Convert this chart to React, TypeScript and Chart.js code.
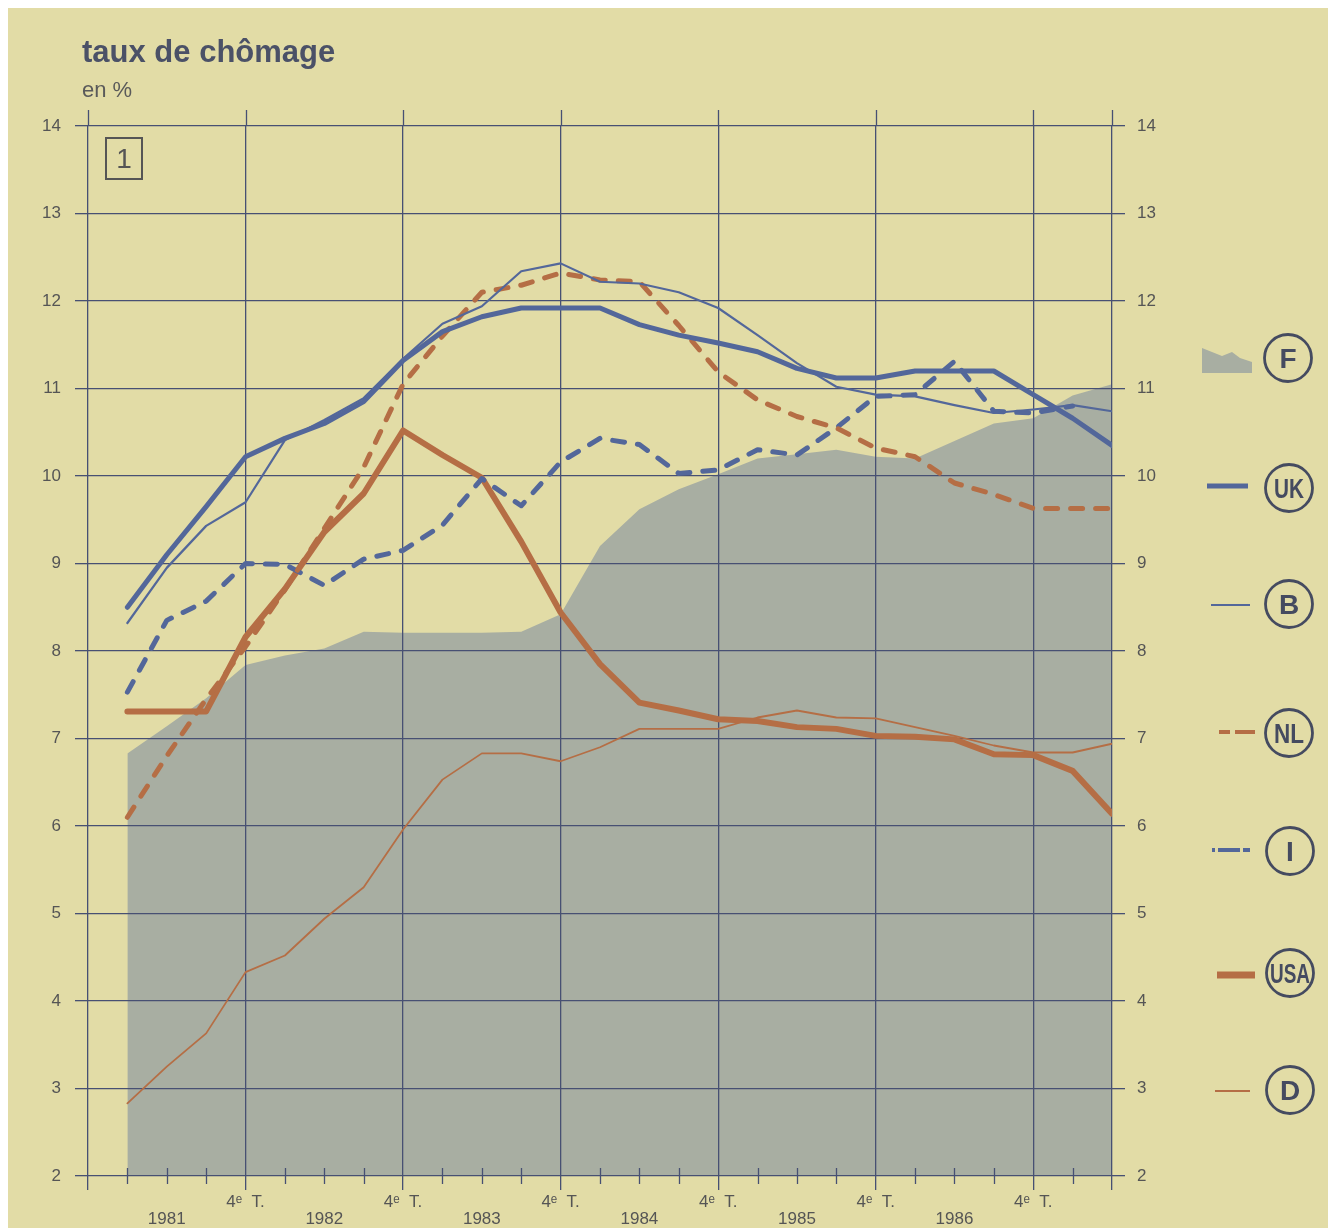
import React, { useEffect, useRef } from 'react';
import { Chart, registerables } from 'chart.js';

Chart.register(...registerables);

// Quarters: 1981 T1 ... 1987 T2
const quarters = [
  '1981 T1', '1981 T2', '1981 T3', '1981 T4',
  '1982 T1', '1982 T2', '1982 T3', '1982 T4',
  '1983 T1', '1983 T2', '1983 T3', '1983 T4',
  '1984 T1', '1984 T2', '1984 T3', '1984 T4',
  '1985 T1', '1985 T2', '1985 T3', '1985 T4',
  '1986 T1', '1986 T2', '1986 T3', '1986 T4',
  '1987 T1', '1987 T2',
];
const yearLabels = ['1981', '1982', '1983', '1984', '1985', '1986'];
const q4Label = '4ᵉ  T.';
const yTicks = [2, 3, 4, 5, 6, 7, 8, 9, 10, 11, 12, 13, 14];

const F = [6.83, 7.14, 7.46, 7.84, 7.95, 8.03, 8.22, 8.21, 8.21, 8.21, 8.22, 8.42, 9.2, 9.62, 9.85, 10.02, 10.2, 10.25, 10.3, 10.22, 10.2, 10.4, 10.6, 10.66, 10.92, 11.05];
const UK = [8.5, 9.1, 9.65, 10.22, 10.43, 10.6, 10.85, 11.32, 11.65, 11.82, 11.92, 11.92, 11.92, 11.73, 11.61, 11.52, 11.42, 11.23, 11.12, 11.12, 11.2, 11.2, 11.2, 10.93, 10.66, 10.35];
const B = [8.32, 8.95, 9.43, 9.7, 10.41, 10.64, 10.89, 11.34, 11.74, 11.94, 12.34, 12.43, 12.22, 12.2, 12.1, 11.92, 11.61, 11.29, 11.02, 10.93, 10.91, 10.81, 10.72, 10.76, 10.81, 10.74];
const NL = [6.1, 6.8, 7.45, 8.05, 8.7, 9.4, 10.1, 11.05, 11.6, 12.1, 12.18, 12.32, 12.24, 12.22, 11.72, 11.19, 10.87, 10.68, 10.55, 10.32, 10.22, 9.92, 9.79, 9.63, 9.63, 9.63];
const I = [7.53, 8.35, 8.57, 9.0, 8.99, 8.75, 9.05, 9.15, 9.44, 9.97, 9.66, 10.16, 10.43, 10.36, 10.03, 10.07, 10.3, 10.24, 10.55, 10.91, 10.93, 11.31, 10.74, 10.72, 10.8, null];
const USA = [7.31, 7.31, 7.31, 8.16, 8.71, 9.36, 9.8, 10.52, 10.24, 9.98, 9.25, 8.44, 7.85, 7.41, 7.32, 7.22, 7.2, 7.13, 7.11, 7.03, 7.02, 6.99, 6.82, 6.81, 6.63, 6.14];
const D = [2.83, 3.25, 3.63, 4.33, 4.52, 4.94, 5.3, 5.96, 6.53, 6.83, 6.83, 6.74, 6.9, 7.11, 7.11, 7.11, 7.24, 7.32, 7.24, 7.23, 7.13, 7.03, 6.92, 6.84, 6.84, 6.94];

const BG = '#E2DCA6';
const GRID = '#475073';
const BLUE = '#53679A';
const ORANGE = '#B56E45';
const GREY = '#A8AEA2';
const TEXT = '#555555';
const DARK = '#454B60';
const FONT = "'Liberation Sans', Arial, Helvetica, sans-serif";

const W = 1320;
const H = 1220;

export default function App() {
  const ref = useRef<HTMLCanvasElement>(null);

  useEffect(() => {
    document.body.style.margin = '8px';
    const canvas = ref.current;
    if (!canvas) return;

    const lastIdx = quarters.length - 1;
    const isMajor = (v: number) => (v + 1) % 4 === 0 || v === lastIdx;
    const toPts = (arr: (number | null)[]) => arr.map((y, i) => ({ x: i, y }));

    const marks = {
      id: 'marks',
      beforeDatasetsDraw(chart: any) {
        const { ctx, chartArea } = chart;
        const x = chart.scales.x;
        ctx.save();
        ctx.strokeStyle = GRID;
        ctx.lineWidth = 1.3;
        ctx.beginPath();
        for (let q = -1; q <= lastIdx; q++) {
          const px = Math.round(x.getPixelForValue(q)) + 0.5;
          if (isMajor(q)) {
            ctx.moveTo(px, chartArea.top - 16);
            ctx.lineTo(px, chartArea.top);
          } else {
            ctx.moveTo(px, chartArea.bottom - 8);
            ctx.lineTo(px, chartArea.bottom + 8);
          }
        }
        ctx.stroke();
        ctx.restore();
      },
    };

    const lineBase = {
      pointRadius: 0,
      pointHoverRadius: 0,
      tension: 0,
      fill: false,
      borderJoinStyle: 'round' as const,
      borderCapStyle: 'round' as const,
    };

    const chart = new Chart(canvas, {
      type: 'line',
      data: {
        datasets: [
          { ...lineBase, label: 'D', data: toPts(D), borderColor: ORANGE, borderWidth: 1.8, order: 6 },
          { ...lineBase, label: 'USA', data: toPts(USA), borderColor: ORANGE, borderWidth: 6, order: 5 },
          { ...lineBase, label: 'I', data: toPts(I), borderColor: BLUE, borderWidth: 5, borderDash: [12, 13], order: 4 },
          { ...lineBase, label: 'NL', data: toPts(NL), borderColor: ORANGE, borderWidth: 5, borderDash: [12, 13], order: 3 },
          { ...lineBase, label: 'B', data: toPts(B), borderColor: BLUE, borderWidth: 2.2, order: 2 },
          { ...lineBase, label: 'UK', data: toPts(UK), borderColor: BLUE, borderWidth: 5, order: 1 },
          {
            ...lineBase,
            label: 'F',
            data: toPts(F),
            fill: 'start',
            backgroundColor: GREY,
            borderColor: GREY,
            borderWidth: 0,
            order: 10,
          },
        ],
      },
      options: {
        responsive: false,
        animation: false,
        devicePixelRatio: 1,
        layout: { padding: { top: 118, left: 0, right: 0, bottom: 0 } },
        plugins: {
          legend: { display: false },
          tooltip: { enabled: false },
          filler: { drawTime: 'beforeDraw' },
        },
        scales: {
          x: {
            type: 'linear',
            position: 'bottom',
            min: -1,
            max: lastIdx,
            afterBuildTicks: (scale: any) => {
              const t: any[] = [];
              for (let q = -1; q <= lastIdx; q++) t.push({ value: q });
              scale.ticks = t;
            },
            afterFit: (scale: any) => {
              scale.height = 52;
            },
            border: { display: false },
            grid: {
              color: GRID,
              lineWidth: (ctx: any) => (isMajor(ctx.tick.value) ? 1.3 : 0),
              tickWidth: (ctx: any) => (isMajor(ctx.tick.value) ? 1.3 : 0),
              tickLength: 14,
              drawTicks: true,
            },
            ticks: {
              autoSkip: false,
              maxRotation: 0,
              minRotation: 0,
              padding: 4,
              color: TEXT,
              font: { family: FONT, size: 17, lineHeight: 1 },
              callback: (v: any) => {
                const q = Number(v);
                if ((q + 1) % 4 === 0 && q >= 3 && q <= 23) return q4Label;
                if ((q - 1) % 4 === 0 && q >= 1) {
                  const y = yearLabels[(q - 1) / 4];
                  return y ? ['', y] : '';
                }
                return '';
              },
            },
          },
          y: {
            type: 'linear',
            position: 'left',
            min: yTicks[0],
            max: yTicks[yTicks.length - 1],
            afterBuildTicks: (scale: any) => {
              scale.ticks = yTicks.map((v) => ({ value: v }));
            },
            afterFit: (scale: any) => {
              scale.width = 80;
            },
            border: { display: false },
            grid: { color: GRID, lineWidth: 1.3, tickLength: 13 },
            ticks: {
              padding: 14,
              color: TEXT,
              font: { family: FONT, size: 17 },
            },
          },
          y2: {
            type: 'linear',
            position: 'right',
            min: yTicks[0],
            max: yTicks[yTicks.length - 1],
            afterBuildTicks: (scale: any) => {
              scale.ticks = yTicks.map((v) => ({ value: v }));
            },
            afterFit: (scale: any) => {
              scale.width = W - 1104;
            },
            border: { display: false },
            grid: { color: GRID, lineWidth: 1.3, tickLength: 13, drawOnChartArea: false },
            ticks: {
              padding: 12,
              color: TEXT,
              font: { family: FONT, size: 17 },
            },
          },
        },
      },
      plugins: [marks],
    } as any);

    return () => chart.destroy();
  }, []);

  const circ = (cx: number, cy: number, label: string, len?: number) => (
    <g key={label}>
      <circle cx={cx} cy={cy} r={23.5} fill="none" stroke={DARK} strokeWidth={2.8} />
      <text
        x={cx}
        y={cy + 10}
        textAnchor="middle"
        fontFamily={"'Liberation Sans Narrow', 'Liberation Sans', Arial, sans-serif"}
        fontWeight={700}
        fontSize={28}
        fill={DARK}
        {...(len ? { textLength: len, lengthAdjust: 'spacingAndGlyphs' } : {})}
      >
        {label}
      </text>
    </g>
  );

  return (
    <div style={{ position: 'relative', width: W, height: H, background: BG, overflow: 'hidden' }}>
      <canvas ref={ref} width={W} height={H} style={{ position: 'absolute', left: 0, top: 0, width: W, height: H }} />
      <div
        style={{
          position: 'absolute',
          left: 74,
          top: 28,
          fontFamily: FONT,
          fontWeight: 700,
          fontSize: 31,
          lineHeight: '31px',
          color: '#4B5167',
          whiteSpace: 'nowrap',
        }}
      >
        taux de chômage
      </div>
      <div
        style={{
          position: 'absolute',
          left: 74,
          top: 71,
          fontFamily: FONT,
          fontSize: 22,
          lineHeight: '22px',
          color: '#5A5A5A',
          whiteSpace: 'nowrap',
        }}
      >
        en %
      </div>
      <div
        style={{
          position: 'absolute',
          left: 97,
          top: 129,
          width: 34,
          height: 39,
          border: '2px solid #555',
          fontFamily: FONT,
          fontSize: 28,
          lineHeight: '39px',
          textAlign: 'center',
          color: '#555',
        }}
      >
        1
      </div>
      <svg width={W} height={H} style={{ position: 'absolute', left: 0, top: 0, pointerEvents: 'none' }}>
        <polygon
          points="1194,340 1204,344 1214,348 1224,344 1232,350 1244,354 1244,365 1194,365"
          fill={GREY}
        />
        {circ(1280, 350, 'F')}
        <line x1={1199} y1={478} x2={1240} y2={478} stroke={BLUE} strokeWidth={5} />
        {circ(1281, 480, 'UK', 30)}
        <line x1={1203} y1={597} x2={1242} y2={597} stroke={BLUE} strokeWidth={2} />
        {circ(1281, 596, 'B')}
        <line x1={1211} y1={724} x2={1222} y2={724} stroke={ORANGE} strokeWidth={4} />
        <line x1={1227} y1={724} x2={1247} y2={724} stroke={ORANGE} strokeWidth={4} />
        {circ(1281, 725, 'NL', 30)}
        <line x1={1204} y1={842} x2={1207} y2={842} stroke={BLUE} strokeWidth={4} />
        <line x1={1210} y1={842} x2={1232} y2={842} stroke={BLUE} strokeWidth={4} />
        <line x1={1235} y1={842} x2={1242} y2={842} stroke={BLUE} strokeWidth={4} />
        {circ(1282, 843, 'I')}
        <line x1={1209} y1={967} x2={1247} y2={967} stroke={ORANGE} strokeWidth={7} />
        {circ(1282, 965, 'USA', 40)}
        <line x1={1207} y1={1083} x2={1242} y2={1083} stroke={ORANGE} strokeWidth={1.8} />
        {circ(1282, 1082, 'D')}
      </svg>
    </div>
  );
}
